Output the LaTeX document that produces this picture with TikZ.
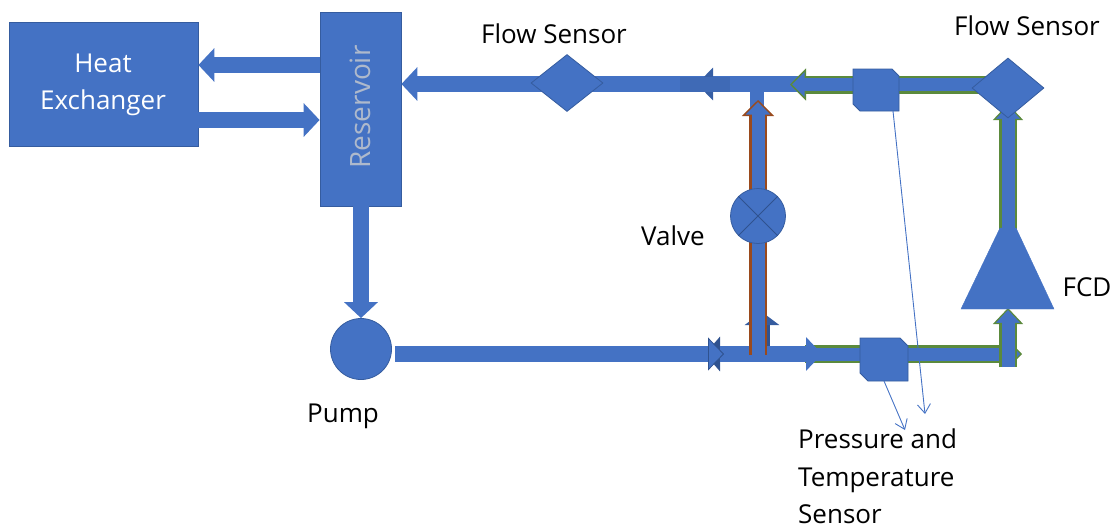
\documentclass[tikz,border=0pt]{standalone}
\usepackage{fontspec}
\setmainfont{Open Sans}
\usetikzlibrary{arrows.meta,calc,shapes.geometric}
\definecolor{pipefill}{HTML}{4472C4}
\definecolor{pipeedge}{HTML}{2F528F}
\definecolor{pipegreen}{HTML}{5B8A3C}
\definecolor{pipebrown}{HTML}{9A4A1C}
\definecolor{labelgrey}{HTML}{AEB9CC}
\tikzset{
  unit/.style={fill=pipefill, draw=pipeedge!70!pipefill, line width=0.8pt, inner sep=0pt},
  flowmark/.style={unit, diamond},
  pipe/.style={draw=pipefill, line width=16pt,
    -{Triangle[length=16pt,width=33pt,fill=pipefill,color=pipefill]}},
  pipeout/.style={draw=#1, line width=18pt,
    -{Triangle[length=16pt,width=32pt,fill=pipefill,color=#1,line width=1.4pt]},
    postaction={draw=pipefill, line width=13pt, -, shorten >=12pt}},
  edged/.style={-{Triangle[length=16pt,width=33pt,fill=pipefill,color=pipeedge,line width=0.8pt]}},
  lab/.style={text=black, font=\fontsize{26}{37.5}\selectfont, align=left},
  tap/.style={draw=pipefill, line width=0.9pt, -{Straight Barb[length=9pt,width=13pt]}},
}
\begin{document}
\begin{tikzpicture}[x=1pt,y=-1pt]
\useasboundingbox (0,0) rectangle (1120,531);

\coordinate (teeTop) at (757,84);
\coordinate (teeBot) at (720,354);
\coordinate (riseBot) at (758,355);
\coordinate (leftEnd) at (395,354);

% heat exchanger and reservoir
\node[unit, minimum width=189pt, minimum height=124pt] (exch) at (103.5,84) {};
\node[unit, minimum width=81pt, minimum height=194pt] (res) at (360.5,109) {};
\node[circle, unit, minimum size=61pt] (pump) at (361,349) {};

\draw[pipe] (res.west |- 0,65) -- (exch.east |- 0,65);
\draw[pipe] (exch.east |- 0,120) -- (res.west |- 0,120);
\draw[pipe] (pump.north |- res.south) -- (pump.north);

% top line
\draw[draw=pipefill, line width=16pt] (730,84) -- (800,84);
\draw[draw=pipefill, line width=14pt] (teeTop) -- (757,112);
\draw[pipe] (teeTop) -- (res.east |- teeTop);
\draw[draw=pipeedge!60!pipefill, line width=15pt, -{Triangle[length=16pt,width=32pt,fill=pipeedge!60!pipefill,color=pipeedge!60!pipefill]}] (730,84) -- (697,84);
\draw[draw=pipefill!93!black, line width=15pt] (680,84) -- (730,84);
\draw[pipeout=pipegreen] (1008,84.5) -- (790,84.5);

% valve branch
\draw[draw=pipeedge, line width=16pt, -{Triangle[length=13pt,width=34pt,fill=pipeedge!70!pipefill,color=pipeedge!70!pipefill]}] (762,350) -- (762,312);

% bottom line
\draw[draw=pipefill, line width=14pt, -{Triangle[length=15pt,width=34pt,fill=pipeedge,color=pipeedge]}] (724,354) -- (705,354);
\draw[pipeout=pipegreen, -{Triangle[length=10pt,width=20pt,fill=pipefill,color=pipegreen,line width=1.2pt]}] (805,354) -- (1022,354);
\draw[pipe] (teeBot) -- (822,354);
\draw[pipe, edged] (leftEnd) -- (724,354);
\draw[pipeout=pipebrown] (riseBot) -- (758,100);

% right side
\draw[pipeout=pipegreen, -{Triangle[length=16pt,width=30pt,fill=pipefill,color=pipegreen,line width=1.2pt]}] (1008,367) -- (1008,308);
\draw[pipeout=pipegreen, -{Triangle[length=16pt,width=30pt,fill=pipefill,color=pipegreen,line width=1.2pt]}] (1008,230) -- (1008,104);

% devices on the lines
\node[flowmark, minimum width=72pt, minimum height=57pt] (flowA) at (567,83) {};
\node[flowmark, minimum width=72pt, minimum height=60pt] (flowB) at (1008,88) {};
\draw[unit] (853,69) -- (892,69) -- (899,76) -- (899,111) -- (860,111) -- (853,104) -- cycle;
\draw[unit] (860,338) -- (900,338) -- (908,346) -- (908,381) -- (868,381) -- (860,373) -- cycle;
\node[circle, unit, minimum size=55pt] (valve) at (758,216) {};
\draw[draw=pipeedge, line width=1pt] (valve.north west) -- (valve.south east);
\draw[draw=pipeedge, line width=1pt] (valve.north east) -- (valve.south west);
\draw[fill=pipefill, draw=pipefill] (1000,228) -- (1016,228) -- (1054,309) -- (961,309) -- cycle;

% thin leads to the label
\coordinate (sensTfoot) at (893,111);
\coordinate (sensBfoot) at (884,381);
\coordinate (tapEndT) at (925,414);
\coordinate (tapEndB) at (905,430);
\draw[tap] (sensTfoot) -- (tapEndT);
\draw[tap] (sensBfoot) -- (tapEndB);

% labels
\node[lab, text=white, align=center] (exchLab) at (103,85) {Heat\\Exchanger};
\node[lab, text=labelgrey, font=\fontsize{28}{34}\selectfont, rotate=90] (resLab) at (360,107) {Reservoir};
\node[lab] (flowALab) at (554,34) {Flow Sensor};
\node[lab] (flowBLab) at (1027,26) {Flow Sensor};
\node[lab] (valveLab) at (673,236) {Valve};
\node[lab] (pumpLab) at (343,416) {Pump};
\node[lab] (fcdLab) at (1087,287) {FCD};
\node[lab, anchor=north west, inner sep=0pt] (sensLab) at (798,429) {Pressure and\\Temperature\\Sensor};
\end{tikzpicture}
\end{document}
